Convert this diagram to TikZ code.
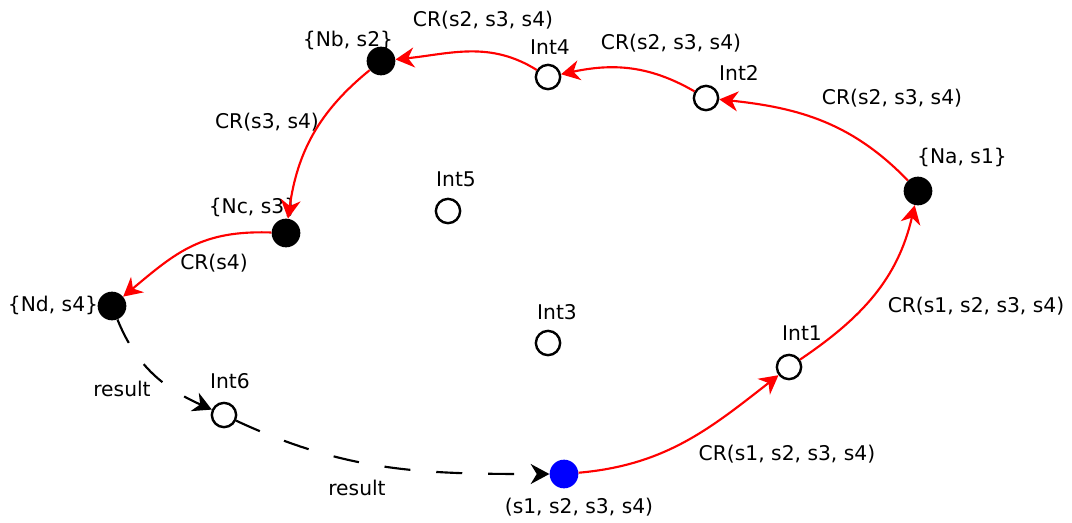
\documentclass[tikz,border=0pt]{standalone}
\usepackage{fontspec}
\setmainfont{DejaVu Sans}
\usetikzlibrary{arrows.meta}

\tikzset{
  state/.style={circle,draw,line width=1.8pt,minimum size=18.2pt,inner sep=0pt},
  host/.style={circle,fill=black,minimum size=21.5pt,inner sep=0pt},
  origin/.style={circle,fill=blue,minimum size=21.5pt,inner sep=0pt},
  tip/.style={-{Stealth[length=14pt,width=15pt,inset=4.5pt]}},
  cr/.style={draw=red,line width=1.6pt,tip},
  res/.style={draw=black,line width=1.6pt,dash pattern=on 19.5pt off 19.5pt,tip}
}

\begin{document}
\begin{tikzpicture}[x=0.75pt,y=0.75pt,font=\fontsize{15.2pt}{18pt}\selectfont]

        \useasboundingbox (0,0) rectangle (1072,-522);

        % hosts and intermediate states
        \node[host]   (na)   at (918,-191) {};
        \node[state]  (int2) at (706,-98)  {};
        \node[state]  (int4) at (548,-77)  {};
        \node[host]   (nb)   at (381,-61)  {};
        \node[host]   (nc)   at (286,-233) {};
        \node[host]   (nd)   at (112,-306) {};
        \node[state]  (int5) at (448,-211) {};
        \node[state]  (int3) at (548,-343) {};
        \node[state]  (int1) at (789,-367) {};
        \node[state]  (int6) at (224,-415) {};
        \node[origin] (src)  at (564,-474) {};

        % node labels
        \node (lna)   at (962,-157) {\{Na, s1\}};
        \node (lint2) at (739,-73)  {Int2};
        \node (lint4) at (550,-47)  {Int4};
        \node (lnb)   at (348,-40)  {\{Nb, s2\}};
        \node (lnc)   at (253,-207) {\{Nc, s3\}};
        \node (lnd)   at (53,-305)  {\{Nd, s4\}};
        \node (lint5) at (456,-179) {Int5};
        \node (lint3) at (557,-312) {Int3};
        \node (lint1) at (802,-333) {Int1};
        \node (lint6) at (230,-381) {Int6};
        \node (lsrc)  at (579,-507) {(s1, s2, s3, s4)};

        % edge labels
        \node (e1) at (892,-98)  {CR(s2, s3, s4)};
        \node (e2) at (671,-43)  {CR(s2, s3, s4)};
        \node (e3) at (483,-20)  {CR(s2, s3, s4)};
        \node (e4) at (267,-122) {CR(s3, s4)};
        \node (e5) at (214,-263) {CR(s4)};
        \node (e6) at (122,-389) {result};
        \node (e7) at (357,-488) {result};
        \node (e8) at (787,-454) {CR(s1, s2, s3, s4)};
        \node (e9) at (976,-306) {CR(s1, s2, s3, s4)};

        \begin{scope}[every edge/.style={draw}]
          \path (src)  edge[cr,out=5,in=-142]   (int1);
          \path (int1) edge[cr,out=34,in=-103]  (na);
          \path (na)   edge[cr,out=134,in=-6]   (int2);
          \path (int2) edge[cr,out=150,in=12]   (int4);
          \path (int4) edge[cr,out=148,in=6]    (nb);
          \path (nb)   edge[cr,out=-141,in=82]  (nc);
          \path (nc)   edge[cr,out=178,in=40,looseness=1.1] (nd);
          \path (nd)   edge[res,out=-68,in=156] (int6);
          \path (int6) edge[res,out=-25,in=180] (src);
        \end{scope}

      \end{tikzpicture}
\end{document}
